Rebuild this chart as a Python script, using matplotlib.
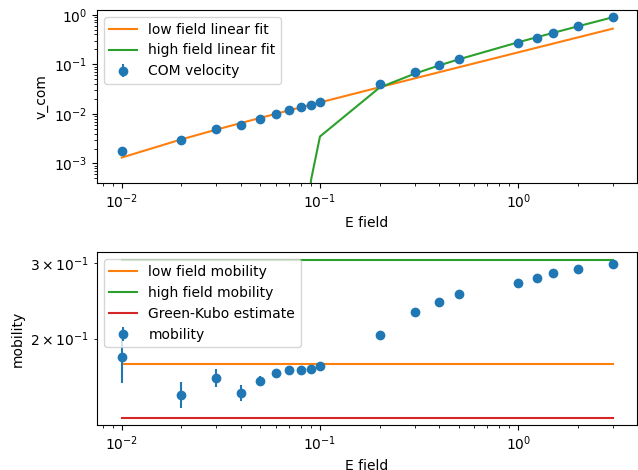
import numpy as np
import matplotlib
matplotlib.use('Agg')
import matplotlib.pyplot as plt

# field values
E = np.array([0.01, 0.02, 0.03, 0.04, 0.05, 0.06, 0.07, 0.08, 0.09, 0.1,
              0.2, 0.3, 0.4, 0.5, 1.0, 1.25, 1.5, 2.0, 3.0])
# mobility, with its error
mobility = np.array([0.1811, 0.148, 0.162, 0.1493, 0.1594, 0.1664, 0.1691, 0.1691, 0.1697, 0.1726,
                     0.2042, 0.2309, 0.244, 0.2535, 0.2693, 0.2767, 0.2842, 0.2914, 0.2984])
mobility_err = np.array([0.024, 0.0106, 0.008, 0.0065, 0.004, 0.002, 0.0015, 0.0012, 0.001, 0.001,
                         0.0008, 0.0006, 0.0005, 0.0005, 0.0004, 0.0004, 0.0003, 0.0003, 0.0003])

# linear fits v = a*E + b
low_a, low_b = 0.1746, -0.00043
high_a, high_b = 0.305, -0.027
green_kubo = 0.1302

v_com = mobility * E
v_err = mobility_err * E

fig, (ax1, ax2) = plt.subplots(2, 1, figsize=(6.38, 4.70), dpi=100)
fig.subplots_adjust(left=0.152, right=0.998, top=0.9787, bottom=0.0957, hspace=0.0)
ax1.set_position([0.152, 0.6117, 0.846, 0.367])
ax2.set_position([0.152, 0.0957, 0.846, 0.3675])

ax1.plot(E, low_a * E + low_b, color='C1', label='low field linear fit')
ax1.plot(E, high_a * E + high_b, color='C2', label='high field linear fit')
ax1.errorbar(E, v_com, yerr=v_err, fmt='o', color='C0', label='COM velocity')
ax1.set_xscale('log')
ax1.set_yscale('log')
ax1.set_xlim(10**-2.125, 10**0.598)
ax1.set_ylim(10**-3.384, 10**0.095)
ax1.set_xlabel('E field')
ax1.set_ylabel('v_com')
ax1.legend(loc='upper left')

ax2.plot(E, np.full_like(E, low_a), color='C1', label='low field mobility')
ax2.plot(E, np.full_like(E, high_a), color='C2', label='high field mobility')
ax2.plot(E, np.full_like(E, green_kubo), color='C3', label='Green-Kubo estimate')
ax2.errorbar(E, mobility, yerr=mobility_err, fmt='o', color='C0', label='mobility')
ax2.set_xscale('log')
ax2.set_yscale('log')
ax2.set_xlim(10**-2.125, 10**0.598)
ax2.set_ylim(0.1256, 0.318)
ax2.set_xlabel('E field')
ax2.set_ylabel('mobility')
ax2.legend(loc='upper left')

fig.savefig('out.png')
